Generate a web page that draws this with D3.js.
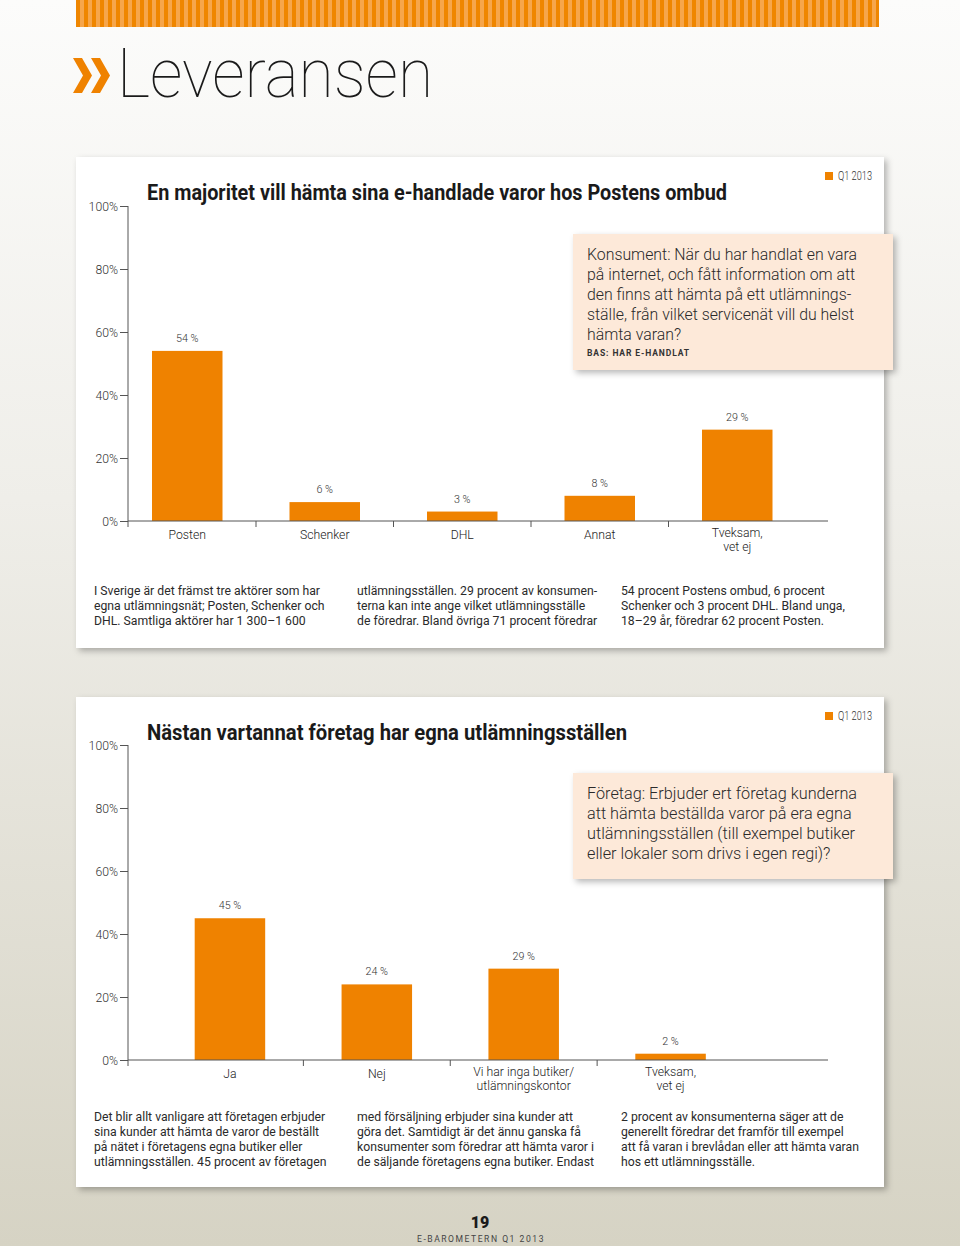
<!DOCTYPE html>
<html><head><meta charset="utf-8">
<script src="https://cdn.jsdelivr.net/npm/d3@7"></script>
<style>body{margin:0;background:#fff;} svg{display:block;}</style>
</head><body>
<script>
// ---------------- DATA ----------------
const categories1 = ["Posten", "Schenker", "DHL", "Annat", "Tveksam,\nvet ej"];
const values1 = [54, 6, 3, 8, 29];
const categories2 = ["Ja", "Nej", "Vi har inga butiker/\nutlämningskontor", "Tveksam,\nvet ej"];
const values2 = [45, 24, 29, 2];
const yTicks = [0, 20, 40, 60, 80, 100];
const heading = "Leveransen";
const title1 = "En majoritet vill hämta sina e-handlade varor hos Postens ombud";
const title2 = "Nästan vartannat företag har egna utlämningsställen";
const legendLabel = "Q1 2013";
const question1 = ["Konsument: När du har handlat en vara", "på internet, och fått information om att", "den finns att hämta på ett utlämnings-", "ställe, från vilket servicenät vill du helst", "hämta varan?"];
const base1 = "BAS: HAR E-HANDLAT";
const question2 = ["Företag: Erbjuder ert företag kunderna", "att hämta beställda varor på era egna", "utlämningsställen (till exempel butiker", "eller lokaler som drivs i egen regi)?"];
const body1 = [
  ["I Sverige är det främst tre aktörer som har", "egna utlämningsnät; Posten, Schenker och", "DHL. Samtliga aktörer har 1 300–1 600"],
  ["utlämningsställen. 29 procent av konsumen-", "terna kan inte ange vilket utlämningsställe", "de föredrar. Bland övriga 71 procent föredrar"],
  ["54 procent Postens ombud, 6 procent", "Schenker och 3 procent DHL. Bland unga,", "18–29 år, föredrar 62 procent Posten."]
];
const body2 = [
  ["Det blir allt vanligare att företagen erbjuder", "sina kunder att hämta de varor de beställt", "på nätet i företagens egna butiker eller", "utlämningsställen. 45 procent av företagen"],
  ["med försäljning erbjuder sina kunder att", "göra det. Samtidigt är det ännu ganska få", "konsumenter som föredrar att hämta varor i", "de säljande företagens egna butiker. Endast"],
  ["2 procent av konsumenterna säger att de", "generellt föredrar det framför till exempel", "att få varan i brevlådan eller att hämta varan", "hos ett utlämningsställe."]
];
const pageNumber = "19";
const footerLabel = "E-BAROMETERN Q1 2013";

// ---------------- SETUP ----------------
const W = 960, H = 1246;
const ORANGE = "#ef8200";
const FONT = "Roboto, 'Noto Sans', sans-serif";
const svg = d3.select("body").append("svg").attr("width", W).attr("height", H);
const defs = svg.append("defs");

const lg = defs.append("linearGradient").attr("id", "bg").attr("x1", 0).attr("y1", 0).attr("x2", 0).attr("y2", 1);
lg.append("stop").attr("offset", "0%").attr("stop-color", "#fcfcfb");
lg.append("stop").attr("offset", "40%").attr("stop-color", "#efeee9");
lg.append("stop").attr("offset", "100%").attr("stop-color", "#d6d3c4");
svg.append("rect").attr("width", W).attr("height", H).attr("fill", "url(#bg)");

const pat = defs.append("pattern").attr("id", "stripes").attr("patternUnits", "userSpaceOnUse")
  .attr("x", 76).attr("y", 0).attr("width", 8).attr("height", 40);
pat.append("rect").attr("width", 8).attr("height", 40).attr("fill", "#f6a64c");
pat.append("rect").attr("width", 4).attr("height", 40).attr("fill", "#ef8600");
svg.append("rect").attr("x", 76).attr("y", 0).attr("width", 803).attr("height", 27).attr("fill", "url(#stripes)");

const flt = defs.append("filter").attr("id", "shadow").attr("x", "-5%").attr("y", "-5%").attr("width", "115%").attr("height", "125%");
flt.append("feDropShadow").attr("dx", 3).attr("dy", 3).attr("stdDeviation", 3)
  .attr("flood-color", "#000").attr("flood-opacity", 0.28);

function fitTo(sel, width) {
  sel.attr("textLength", width).attr("lengthAdjust", "spacingAndGlyphs");
}
function condense(sel, k) {
  sel.each(function () {
    const L = this.getComputedTextLength();
    d3.select(this).attr("textLength", L * k).attr("lengthAdjust", "spacingAndGlyphs");
  });
}
function measure(txt, size, weight) {
  const t = svg.append("text").attr("font-family", FONT).attr("font-size", size).attr("font-weight", weight).text(txt);
  const L = t.node().getComputedTextLength();
  t.remove();
  return L;
}

const kBody = 226 / measure(body1[0][0], 12.5, 400);
const kSmall = kBody;

// ---------------- HEADER ----------------
function chevron(x0) {
  const top = 58, bot = 93, mid = 75.5, w = 19, t = 9;
  return [[x0, top], [x0 + t, top], [x0 + w, mid], [x0 + t, bot], [x0, bot], [x0 + w - t, mid]];
}
[73, 91].forEach(x0 => {
  svg.append("polygon").attr("points", chevron(x0).map(p => p.join(",")).join(" ")).attr("fill", ORANGE);
});
const head = svg.append("text").attr("x", 117).attr("y", 97).attr("font-family", FONT)
  .attr("font-size", 68).attr("font-weight", 100).attr("fill", "#1a1a1a").text(heading);
fitTo(head, 316);

// ---------------- PANELS ----------------
function drawPanel(cfg) {
  const g = svg.append("g");
  g.append("rect").attr("x", 76).attr("y", cfg.top).attr("width", 808).attr("height", cfg.height)
    .attr("fill", "#fff").attr("filter", "url(#shadow)");

  // legend
  g.append("rect").attr("x", 825).attr("y", cfg.top + 15).attr("width", 8).attr("height", 8).attr("fill", ORANGE);
  fitTo(g.append("text").attr("x", 838).attr("y", cfg.top + 23).attr("font-family", FONT).attr("font-size", 12)
    .attr("font-weight", 300).attr("fill", "#333").text(legendLabel), 34);

  // title
  fitTo(g.append("text").attr("x", 147).attr("y", cfg.titleY).attr("font-family", FONT).attr("font-size", 21.5)
    .attr("font-weight", 700).attr("fill", "#1a1a1a").text(cfg.title), cfg.titleW);

  // question box
  g.append("rect").attr("x", 573).attr("y", cfg.qTop).attr("width", 320).attr("height", cfg.qH)
    .attr("fill", "#fde9d9").attr("filter", "url(#shadow)");
  const qk = cfg.qRefW / measure(cfg.question[cfg.qRef], 17, 300);
  g.selectAll(null).data(cfg.question).join("text")
    .attr("x", 587).attr("y", (d, i) => cfg.qY + i * 20)
    .attr("font-family", FONT).attr("font-size", 17).attr("font-weight", 300).attr("fill", "#2a2a2a")
    .text(d => d).call(condense, qk);
  if (cfg.base) {
    g.append("text").attr("x", 587).attr("y", cfg.qY + cfg.question.length * 20 - 4)
      .attr("font-family", FONT).attr("font-size", 8.5).attr("font-weight", 700).attr("letter-spacing", 0.9)
      .attr("fill", "#333").text(cfg.base);
  }

  // scales
  const y = d3.scaleLinear().domain([0, 100]).range([cfg.y0, cfg.y0 - 315]);
  const x = d3.scaleBand().domain(cfg.categories).range(cfg.xRange).padding(0);
  const barW = 70.5;

  // y axis
  const ya = g.append("g").attr("transform", "translate(128,0)")
    .call(d3.axisLeft(y).tickValues(yTicks).tickFormat(d => d + "%").tickSize(8).tickSizeOuter(0));
  ya.select(".domain").remove();
  ya.selectAll(".tick line").attr("stroke", "#555");
  ya.selectAll(".tick text").attr("font-family", FONT).attr("font-size", 12.5).attr("font-weight", 300)
    .attr("fill", "#333").attr("x", -10).call(condense, kSmall);
  g.append("line").attr("x1", 128).attr("x2", 128).attr("y1", y(100)).attr("y2", y(0) + 6).attr("stroke", "#555");

  // bars
  const data = cfg.categories.map((c, i) => ({ c, v: cfg.values[i] }));
  g.selectAll(null).data(data).join("rect")
    .attr("x", d => x(d.c) + x.bandwidth() / 2 - barW / 2).attr("width", barW)
    .attr("y", d => y(d.v)).attr("height", d => y(0) - y(d.v)).attr("fill", ORANGE);

  // x axis line and dividers
  g.append("line").attr("x1", 128).attr("x2", 828).attr("y1", y(0)).attr("y2", y(0)).attr("stroke", "#555");
  g.selectAll(null).data(cfg.categories.slice(1)).join("line")
    .attr("x1", d => x(d)).attr("x2", d => x(d)).attr("y1", y(0)).attr("y2", y(0) + 6).attr("stroke", "#555");

  // value labels
  g.selectAll(null).data(data).join("text")
    .attr("x", d => x(d.c) + x.bandwidth() / 2).attr("y", d => y(d.v) - 9)
    .attr("text-anchor", "middle").attr("font-family", FONT).attr("font-size", 11).attr("font-weight", 300)
    .attr("fill", "#333").text(d => d.v + " %").call(condense, kSmall);

  // category labels
  data.forEach(d => {
    const lines = d.c.split("\n");
    const y0 = lines.length > 1 ? y(0) + 15.5 : y(0) + 18;
    lines.forEach((ln, j) => {
      g.append("text").attr("x", x(d.c) + x.bandwidth() / 2).attr("y", y0 + j * 14)
        .attr("text-anchor", "middle").attr("font-family", FONT).attr("font-size", 12.5).attr("font-weight", 300)
        .attr("fill", "#222").text(ln).call(condense, kSmall);
    });
  });

  // body text
  const cols = [94, 357, 621];
  cfg.body.forEach((col, ci) => {
    g.selectAll(null).data(col).join("text")
      .attr("x", cols[ci]).attr("y", (d, i) => cfg.bodyY + i * 15)
      .attr("font-family", FONT).attr("font-size", 12.5).attr("font-weight", 400).attr("fill", "#2a2a2a")
      .text(d => d).call(condense, kBody);
  });
}

drawPanel({
  top: 157, height: 491, title: title1, titleY: 200, titleW: 580,
  qTop: 234, qH: 136, question: question1, qY: 260, qRef: 0, qRefW: 270, base: base1,
  y0: 521, xRange: [118.5, 806], categories: categories1, values: values1,
  body: body1, bodyY: 595
});
drawPanel({
  top: 697, height: 490, title: title2, titleY: 740, titleW: 480,
  qTop: 773, qH: 106, question: question2, qY: 799, qRef: 2, qRefW: 268, base: null,
  y0: 1060, xRange: [156.5, 744], categories: categories2, values: values2,
  body: body2, bodyY: 1121
});

// ---------------- FOOTER ----------------
svg.append("text").attr("x", 480).attr("y", 1228).attr("text-anchor", "middle").attr("font-family", FONT)
  .attr("font-size", 16).attr("font-weight", 900).attr("fill", "#1a1a1a").text(pageNumber);
fitTo(svg.append("text").attr("x", 417).attr("y", 1242).attr("font-family", FONT)
  .attr("font-size", 9).attr("font-weight", 400).attr("letter-spacing", 1.6).attr("fill", "#444").text(footerLabel), 128);
</script>
</body></html>
